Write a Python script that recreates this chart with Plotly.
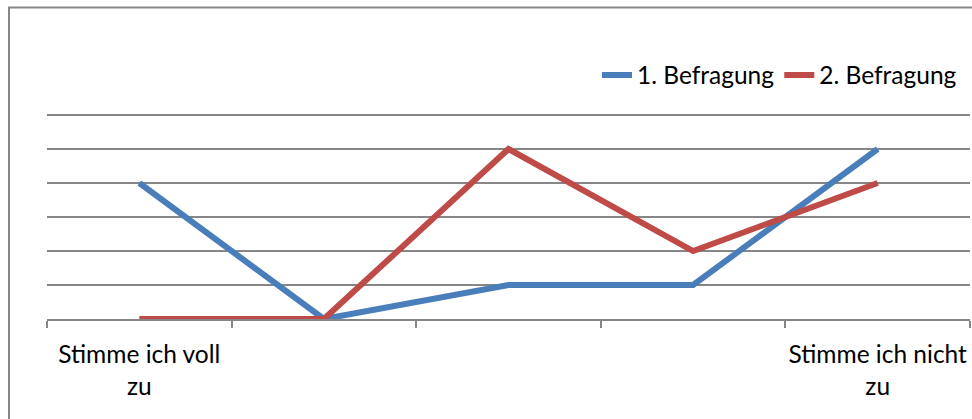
import plotly.graph_objects as go

categories = ["c1", "c2", "c3", "c4", "c5"]
tick_labels = ["Stimme ich voll<br>zu", "", "", "", "Stimme ich nicht<br>zu"]
series_names = ["1. Befragung", "2. Befragung"]
befragung_1 = [4, 0, 1, 1, 5]
befragung_2 = [0, 0, 5, 2, 4]

colors = ["#4A7EBB", "#BE4B48"]
W, H = 972, 419
ymax = 6.03
ml, mr, mb = 47, 2, 100
mt = H - mb - round(204 * ymax / 6)

fig = go.Figure()
for name, vals, col in zip(series_names, [befragung_1, befragung_2], colors):
    fig.add_trace(go.Scatter(x=categories, y=vals, name=name, mode="lines",
                             cliponaxis=False,
                             line=dict(color=col, width=6)))

pw = W - ml - mr
ph = H - mt - mb
def px_x(p):
    return (p - ml) / pw
def px_y(p):
    return (H - mb - p) / ph

fig.add_shape(type="rect", xref="paper", yref="paper",
              x0=px_x(9), x1=px_x(1100), y0=px_y(700), y1=px_y(7.5),
              line=dict(color="#868686", width=2), fillcolor="rgba(0,0,0,0)", layer="below")

fs = 24.5
fig.update_layout(
    width=W, height=H,
    margin=dict(l=ml, r=mr, t=mt, b=mb, autoexpand=False),
    paper_bgcolor="white", plot_bgcolor="white",
    font=dict(family="Lato", size=fs, color="black"),
    showlegend=True,
    legend=dict(orientation="h", x=px_x(962), xanchor="right", y=px_y(75), yanchor="middle",
                font=dict(size=fs), itemwidth=30, bgcolor="rgba(0,0,0,0)"),
    xaxis=dict(type="category", categoryorder="array", categoryarray=categories,
               tickvals=categories, ticktext=tick_labels, tickson="boundaries",
               ticks="outside", ticklen=7, tickcolor="#868686", tickwidth=1.5,
               showline=True, linecolor="#868686", linewidth=1.5,
               showgrid=False, zeroline=False, range=[-0.5, 4.5],
               tickangle=0, automargin=False, layer="below traces",
               ticklabelstandoff=13, tickfont=dict(size=fs)),
    yaxis=dict(range=[0, ymax], dtick=1, showgrid=True, gridcolor="#868686", gridwidth=1.5,
               showticklabels=False, zeroline=False, showline=False, fixedrange=True,
               automargin=False, layer="below traces"),
)

fig.write_html("out.html")
